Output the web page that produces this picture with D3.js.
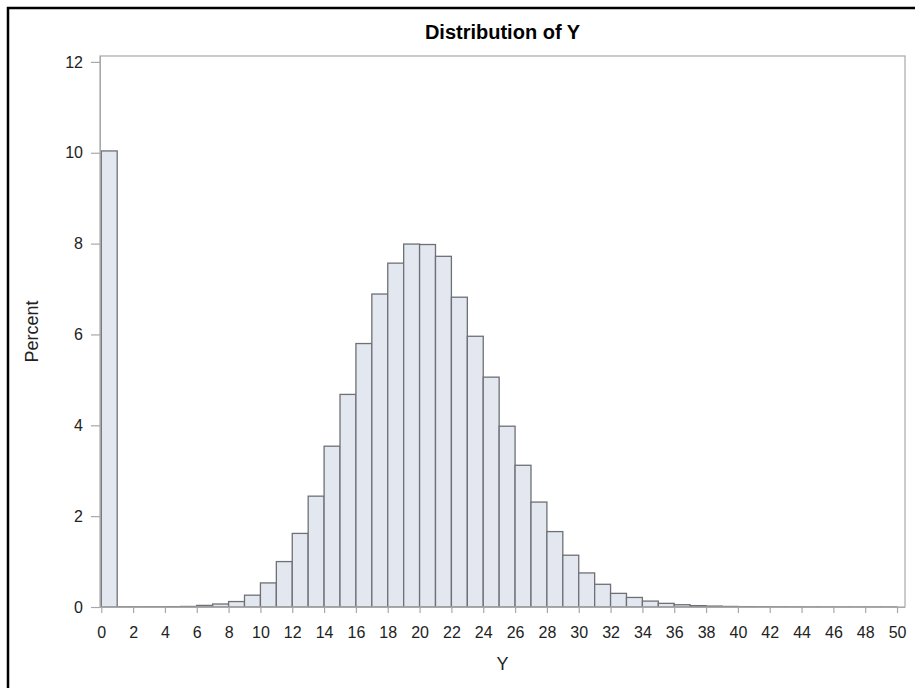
<!DOCTYPE html>
<html>
<head>
<meta charset="utf-8">
<script src="https://cdn.jsdelivr.net/npm/d3@7"></script>
<style>
  html, body { margin: 0; padding: 0; background: #fff; }
  svg { display: block; font-family: "Liberation Sans", Arial, sans-serif; }
</style>
</head>
<body>
<svg id="chart" width="915" height="688"></svg>
<script>
// Histogram bins: bin i covers [i, i+1)
const binStarts = d3.range(0, 50);
const percentValues = [
  10.04, 0.005, 0.005, 0.006, 0.008, 0.012, 0.035, 0.066, 0.12, 0.26,
  0.53, 1.00, 1.62, 2.44, 3.54, 4.68, 5.80, 6.89, 7.57, 7.99,
  7.98, 7.72, 6.82, 5.96, 5.06, 3.98, 3.12, 2.31, 1.66, 1.14,
  0.75, 0.50, 0.30, 0.21, 0.13, 0.08, 0.05, 0.03, 0.02, 0.012,
  0.008, 0.006, 0.004, 0.003, 0.002, 0.002, 0.001, 0.001, 0.001, 0.001
];
const xTickValues = d3.range(0, 51, 2);
const yTickValues = [0, 2, 4, 6, 8, 10, 12];
const chartTitle = "Distribution of Y";
const xLabel = "Y";
const yLabel = "Percent";

const svg = d3.select("#chart");
const plot = { left: 100, right: 905, top: 56, bottom: 607 };

const x = d3.scaleLinear().domain([-0.08, 50.5]).range([plot.left, plot.right]);
const y = d3.scaleLinear().domain([0, 12.13]).range([plot.bottom, plot.top]);

// outer frame (only top and left visible in the window)
svg.append("rect")
  .attr("x", 8).attr("y", 8).attr("width", 960).attr("height", 760)
  .attr("fill", "none").attr("stroke", "#000").attr("stroke-width", 2.5);

// title, centred over the plot area
svg.append("text")
  .attr("x", (plot.left + plot.right) / 2).attr("y", 39)
  .attr("text-anchor", "middle")
  .attr("font-size", 20).attr("font-weight", "bold").attr("fill", "#000")
  .text(chartTitle);

// bars
svg.append("g").selectAll("rect")
  .data(binStarts)
  .join("rect")
  .attr("x", (d) => x(d))
  .attr("y", (d, i) => y(percentValues[i]))
  .attr("width", (d) => x(d + 1) - x(d))
  .attr("height", (d, i) => y(0) - y(percentValues[i]))
  .attr("fill", "#E3E7F0")
  .attr("stroke", "#6E7075")
  .attr("stroke-width", 1.3);

// plot frame
svg.append("rect")
  .attr("x", plot.left).attr("y", plot.top)
  .attr("width", plot.right - plot.left).attr("height", plot.bottom - plot.top)
  .attr("fill", "none").attr("stroke", "#A8A8A8").attr("stroke-width", 1.2);

// x axis
const xAxis = svg.append("g")
  .attr("transform", `translate(0,${plot.bottom})`)
  .call(d3.axisBottom(x).tickValues(xTickValues).tickSize(6).tickPadding(14).tickFormat(d3.format("d")));
xAxis.select(".domain").attr("stroke", "#A8A8A8").attr("d", `M${plot.left},0.5H${plot.right}`);
xAxis.selectAll(".tick line").attr("stroke", "#A8A8A8").attr("stroke-width", 1.2);
xAxis.selectAll(".tick text").attr("font-size", 16).attr("fill", "#222")
  .attr("font-family", "'Liberation Sans', Arial, sans-serif");

// y axis
const yAxis = svg.append("g")
  .attr("transform", `translate(${plot.left},0)`)
  .call(d3.axisLeft(y).tickValues(yTickValues).tickSize(9).tickPadding(8).tickFormat(d3.format("d")));
yAxis.select(".domain").attr("stroke", "#A8A8A8").attr("d", `M0.5,${plot.bottom}V${plot.top}`);
yAxis.selectAll(".tick line").attr("stroke", "#A8A8A8").attr("stroke-width", 1.2);
yAxis.selectAll(".tick text").attr("font-size", 16).attr("fill", "#222")
  .attr("font-family", "'Liberation Sans', Arial, sans-serif");

// axis labels
svg.append("text")
  .attr("x", (plot.left + plot.right) / 2).attr("y", 670)
  .attr("text-anchor", "middle").attr("font-size", 18).attr("fill", "#222")
  .text(xLabel);

svg.append("text")
  .attr("transform", `translate(38,${(plot.top + plot.bottom) / 2}) rotate(-90)`)
  .attr("text-anchor", "middle").attr("font-size", 18).attr("fill", "#222")
  .text(yLabel);
</script>
</body>
</html>
